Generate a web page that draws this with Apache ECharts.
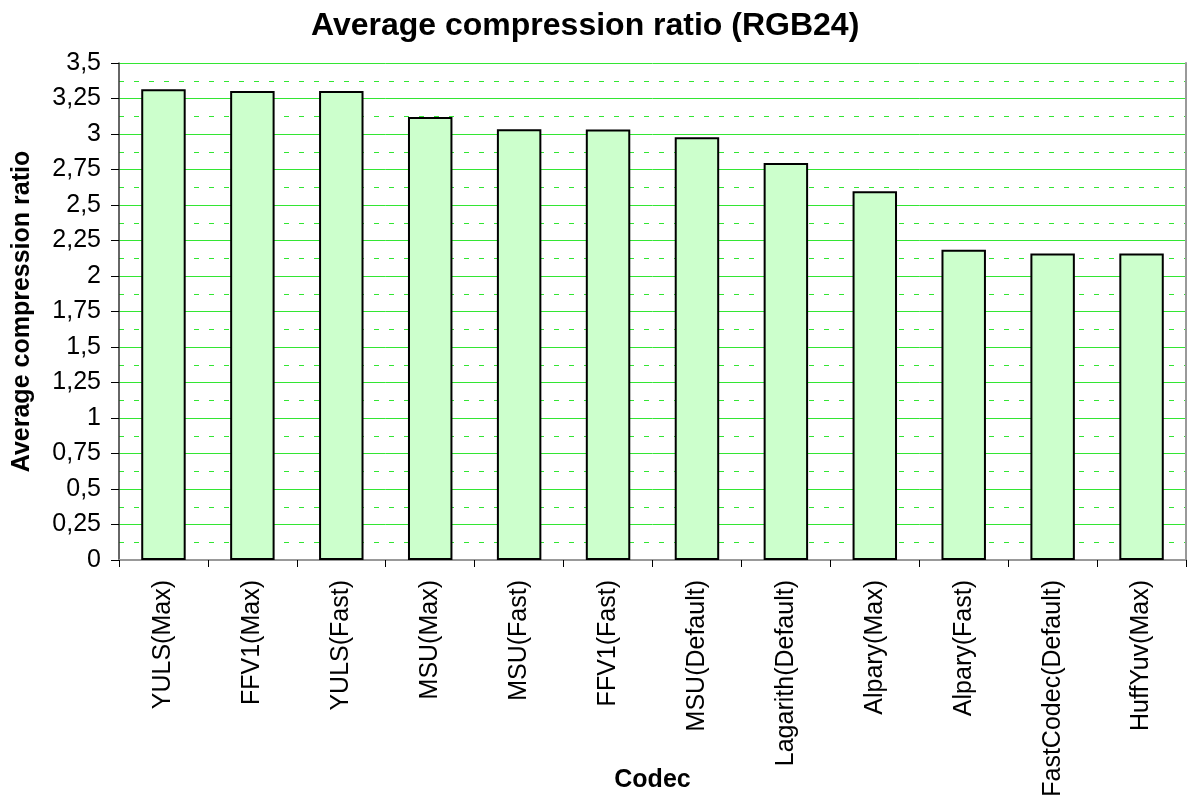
<!DOCTYPE html>
<html>
<head>
<meta charset="utf-8">
<script src="https://cdn.jsdelivr.net/npm/echarts@6/dist/echarts.min.js"></script>
<style>html,body{margin:0;padding:0;background:#fff}#c{width:1192px;height:802px}</style>
</head>
<body>
<div id="c"></div>
<script>
const categories = ['YULS(Max)','FFV1(Max)','YULS(Fast)','MSU(Max)','MSU(Fast)','FFV1(Fast)','MSU(Default)','Lagarith(Default)','Alpary(Max)','Alpary(Fast)','FastCodec(Default)','HuffYuv(Max)'];
const ratios = [3.315, 3.303, 3.303, 3.12, 3.033, 3.031, 2.977, 2.796, 2.597, 2.184, 2.158, 2.158];
const yMin = 0, yMax = 3.5, yStep = 0.25;

const FONT = '"Liberation Sans", Arial, sans-serif';
const chart = echarts.init(document.getElementById('c'), null, {renderer: 'canvas'});
chart.setOption({
  animation: false,
  backgroundColor: '#fff',
  title: {
    text: 'Average compression ratio (RGB24)',
    left: 306, top: 5,
    textStyle: {fontFamily: FONT, fontSize: 32, fontWeight: 'bold', color: '#000'}
  },
  grid: {left: 119, right: 6, top: 63, bottom: 242, containLabel: false, outerBoundsMode: 'none'},
  xAxis: [{
    type: 'category',
    data: categories,
    name: 'Codec',
    nameLocation: 'middle',
    nameGap: 208,
    nameMoveOverlap: false,
    nameTextStyle: {fontFamily: FONT, fontSize: 25, fontWeight: 'bold', color: '#000'},
    axisLine: {lineStyle: {color: '#000', width: 1.5}},
    axisTick: {show: true, length: 7, lineStyle: {color: '#000'}},
    axisLabel: {rotate: 90, fontFamily: FONT, fontSize: 25, color: '#000', margin: 20}
  }, {
    type: 'category', position: 'top', data: categories,
    axisLine: {lineStyle: {color: '#999', width: 2}},
    axisTick: {show: false}, axisLabel: {show: false}
  }],
  yAxis: [{
    type: 'value',
    min: yMin, max: yMax, interval: yStep,
    name: 'Average compression ratio',
    nameLocation: 'middle',
    nameGap: 84,
    nameMoveOverlap: false,
    nameTextStyle: {fontFamily: FONT, fontSize: 25, fontWeight: 'bold', color: '#000'},
    axisLine: {show: true, lineStyle: {color: '#333', width: 1.5}},
    axisTick: {show: true, length: 8, lineStyle: {color: '#000'}},
    axisLabel: {fontFamily: FONT, fontSize: 25, color: '#000', margin: 18,
      formatter: v => String(v).replace('.', ',')},
    splitLine: {show: true, lineStyle: {color: '#33e633', width: 1}},
    minorTick: {show: false, splitNumber: 2},
    minorSplitLine: {show: true, lineStyle: {color: '#33e633', width: 1, type: [5, 10]}}
  }, {
    type: 'value', position: 'right', min: yMin, max: yMax, interval: yStep,
    axisLine: {show: true, lineStyle: {color: '#999', width: 2}},
    axisTick: {show: false}, axisLabel: {show: false}, splitLine: {show: false}
  }],
  series: [{
    type: 'bar',
    data: ratios,
    barCategoryGap: '50%',
    itemStyle: {color: '#ccffcc', borderColor: '#000', borderWidth: 2},
    z: 3
  }]
});
</script>
</body>
</html>
